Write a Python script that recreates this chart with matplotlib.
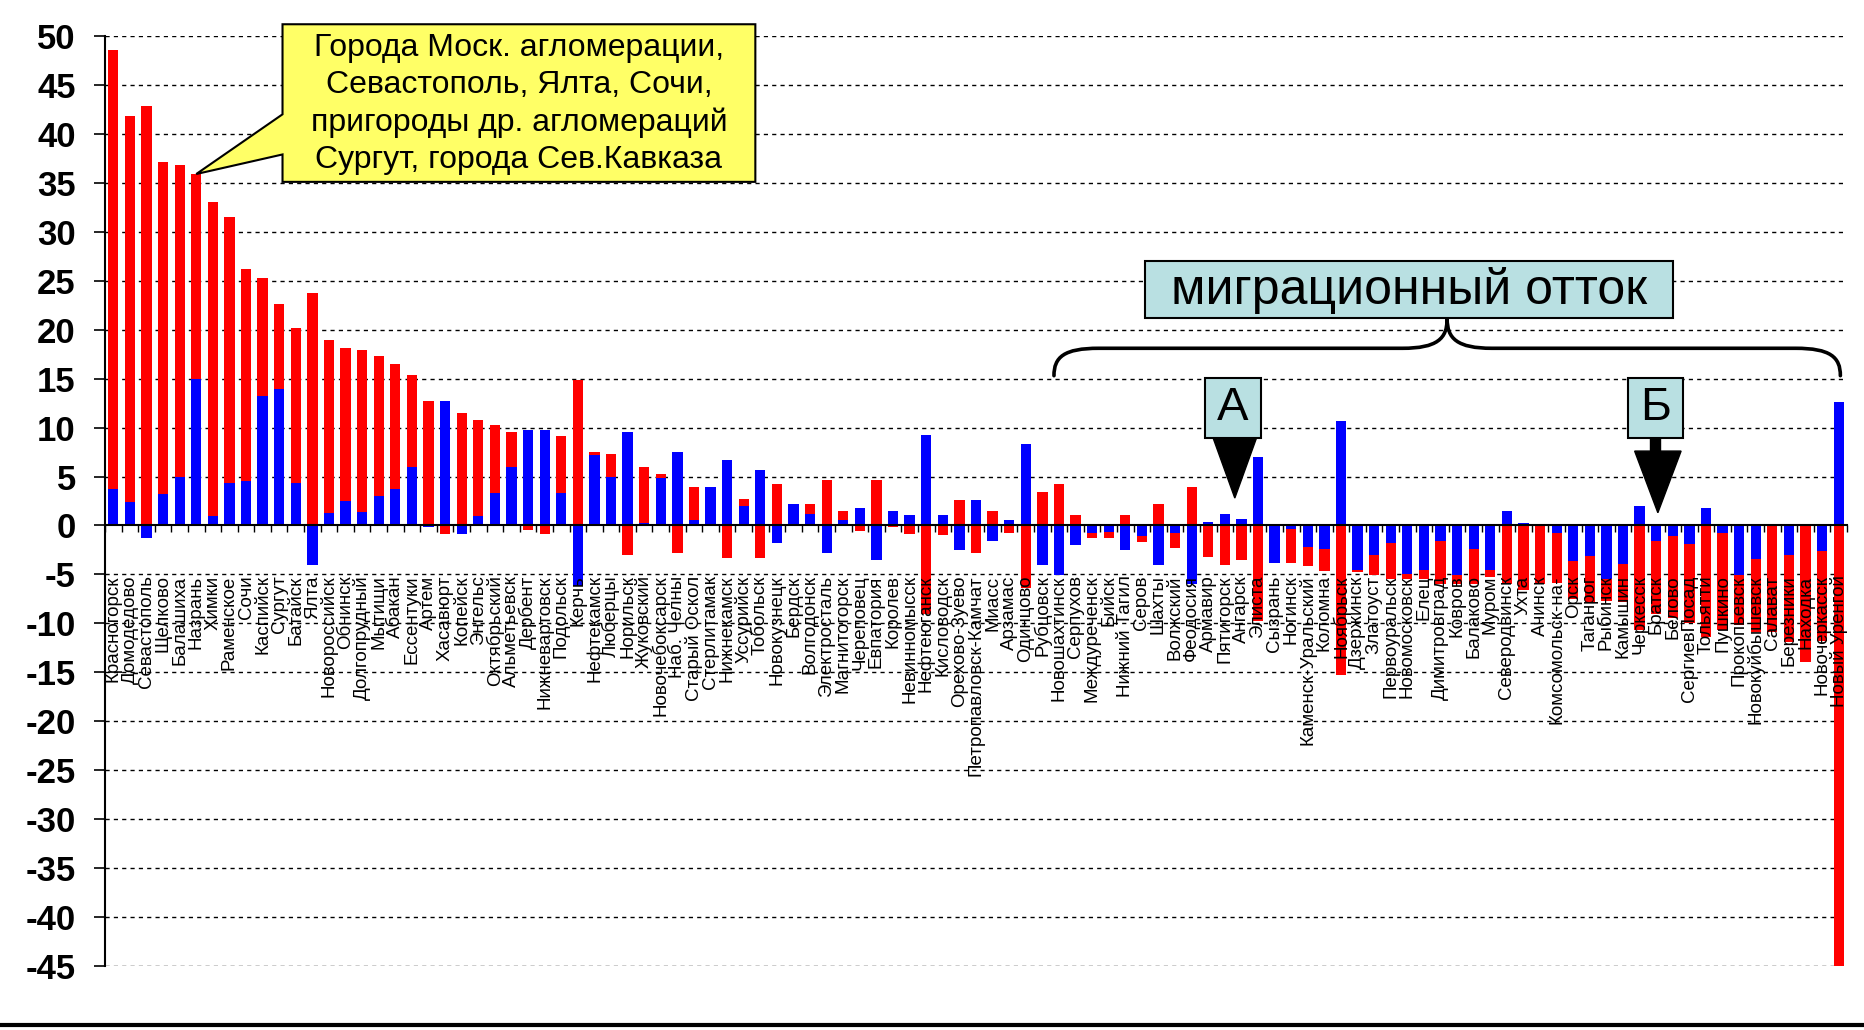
import numpy as np
import matplotlib
matplotlib.use("Agg")
import matplotlib.pyplot as plt
from matplotlib.patches import Polygon, Rectangle, PathPatch
from matplotlib.path import Path
from matplotlib.lines import Line2D

plt.rcParams['font.family'] = ['Liberation Sans', 'DejaVu Sans']

cities = [
    "Красногорск", "Домодедово", "Севастополь", "Щелково", "Балашиха", "Назрань", "Химки",
    "Раменское", "Сочи", "Каспийск", "Сургут", "Батайск", "Ялта", "Новороссийск", "Обнинск",
    "Долгопрудный", "Мытищи", "Абакан", "Ессентуки", "Артем", "Хасавюрт", "Копейск", "Энгельс",
    "Октябрьский", "Альметьевск", "Дербент", "Нижневартовск", "Подольск", "Керчь", "Нефтекамск",
    "Люберцы", "Норильск", "Жуковский", "Новочебоксарск", "Наб. Челны", "Старый Оскол",
    "Стерлитамак", "Нижнекамск", "Уссурийск", "Тобольск", "Новокузнецк", "Бердск", "Волгодонск",
    "Электросталь", "Магнитогорск", "Череповец", "Евпатория", "Королев", "Невинномысск",
    "Нефтеюганск", "Кисловодск", "Орехово-Зуево", "Петропавловск-Камчат", "Миасс", "Арзамас",
    "Одинцово", "Рубцовск", "Новошахтинск", "Серпухов", "Междуреченск", "Бийск", "Нижний Тагил",
    "Серов", "Шахты", "Волжский", "Феодосия", "Армавир", "Пятигорск", "Ангарск", "Элиста",
    "Сызрань", "Ногинск", "Каменск-Уральский", "Коломна", "Ноябрьск", "Дзержинск", "Златоуст",
    "Первоуральск", "Новомосковск", "Елец", "Димитровград", "Ковров", "Балаково", "Муром",
    "Северодвинск", "Ухта", "Ачинск", "Комсомольск-на-", "Орск", "Таганрог", "Рыбинск",
    "Камышин", "Черкесск", "Братск", "Белово", "СергиевПосад", "Тольятти", "Пушкино",
    "Прокопьевск", "Новокуйбышевск", "Салават", "Березники", "Находка", "Новочеркасск",
    "Новый Уренгой",
]

red_values = [
    48.6, 41.8, 42.9, 37.1, 36.8, 35.9, 33.0, 31.5, 26.2, 25.3, 22.6, 20.2, 23.7, 18.9, 18.1,
    17.9, 17.3, 16.5, 15.4, 12.7, -0.9, 11.5, 10.8, 10.3, 9.5, -0.5, -0.9, 9.1, 14.9, 7.5,
    7.3, -3.0, 6.0, 5.3, -2.8, 3.9, 0.5, -3.3, 2.7, -3.3, 4.2, 1.0, 2.2, 4.6, 1.5,
    -0.6, 4.6, -0.2, -0.9, -9.0, -1.0, 2.6, -2.8, 1.5, -0.8, -6.4, 3.4, 4.2, 1.1, -1.3,
    -1.3, 1.1, -1.7, 2.2, -2.3, 3.9, -3.2, -4.0, -3.5, -9.8, -2.0, -3.8, -4.1, -4.6, -15.3,
    -4.8, -5.1, -5.5, -5.5, -5.5, -6.0, -6.0, -6.0, -5.3, -6.0, -6.6, -6.0, -5.9, -7.5,
    -7.8, -7.7, -7.8, -10.7, -9.0, -9.5, -10.0, -11.4, -10.7, -10.2, -10.9, -10.9, -11.9,
    -13.9, -11.8, -45.2,
]

blue_values = [
    3.7, 2.4, -1.3, 3.2, 5.0, 15.0, 1.0, 4.3, 4.5, 13.2, 13.9, 4.3, -4.0, 1.3, 2.5,
    1.4, 3.0, 3.7, 6.0, -0.2, 12.7, -0.9, 1.0, 3.3, 6.0, 9.8, 9.8, 3.3, -6.2, 7.2,
    5.0, 9.5, 0.3, 4.9, 7.5, 0.6, 3.9, 6.7, 2.0, 5.7, -1.8, 2.2, 1.2, -2.8, 0.6,
    1.8, -3.5, 1.5, 1.1, 9.2, 1.1, -2.5, 2.6, -1.6, 0.6, 8.3, -4.0, -5.1, -2.0, -0.8,
    -0.7, -2.5, -1.1, -4.0, -0.8, -6.0, 0.4, 1.2, 0.7, 7.0, -3.8, -0.4, -2.2, -2.4, 10.7,
    -4.5, -3.0, -1.8, -5.0, -4.5, -1.6, -5.1, -2.4, -4.5, 1.5, 0.3, 0.1, -0.8, -3.6,
    -3.1, -5.5, -3.9, 2.0, -1.6, -1.1, -1.9, 1.8, -0.8, -5.1, -3.4, 0.1, -3.0,
    0.1, -2.6, 12.6,
]

y_ticks = list(range(-45, 51, 5))

callout_lines = ["Города Моск. агломерации,", "Севастополь, Ялта, Сочи,",
                 "пригороды др. агломераций", "Сургут, города Сев.Кавказа"]
outflow_label = "миграционный отток"
marker_a = "А"
marker_b = "Б"

W, H = 1865, 1030
fig = plt.figure(figsize=(W / 100, H / 100), dpi=100)
ax = fig.add_axes([105 / W, (H - 966) / H, (1847 - 105) / W, (966 - 36) / H])

n = len(cities)
x = np.arange(n)

# grid (behind bars)
for yv in y_ticks:
    if yv != 0:
        ax.axhline(yv, color='black', lw=1.0, ls=(0, (3, 3)), zorder=0.5)

ax.bar(x, red_values, width=0.62, color='#FF0000', zorder=1)
ax.bar(x, blue_values, width=0.62, color='#0000FF', zorder=1.1)

ax.set_xlim(-0.5, n - 0.5)
ax.set_ylim(-45, 50)

ax.spines['top'].set_visible(False)
ax.spines['right'].set_visible(False)
ax.spines['left'].set_linewidth(1.5)
ax.spines['bottom'].set_position(('data', 0))
ax.spines['bottom'].set_linewidth(1.5)

ax.set_yticks(y_ticks)
ax.set_yticklabels([str(v) for v in y_ticks], fontsize=25, fontweight='bold')
ax.tick_params(axis='y', length=8, width=1.2, pad=13)

ax.set_xticks(x)
ax.set_xticklabels(cities, rotation=90, fontsize=13.5)
ax.tick_params(axis='x', which='major', length=0, pad=36)
ax.set_xticks(np.arange(-0.5, n, 1.0), minor=True)
ax.tick_params(axis='x', which='minor', length=5, width=1, direction='out')

# yellow callout pointing at Назрань
tip_i = cities.index("Назрань")
bx0, bx1, by0, by1 = 10.2, 38.7, 35.1, 51.2
callout = Polygon([(bx0, by1), (bx1, by1), (bx1, by0), (bx0, by0), (bx0, 37.9),
                   (tip_i, red_values[tip_i]), (bx0, 42.0)],
                  closed=True, facecolor='#FFFF66', edgecolor='black', lw=1.5,
                  clip_on=False, zorder=5)
ax.add_patch(callout)
ax.text((bx0 + bx1) / 2, (by0 + by1) / 2 - 0.1, "\n".join(callout_lines), ha='center',
        va='center', fontsize=23, linespacing=1.3, zorder=6, clip_on=False)

# migration outflow box
light_blue = '#B9E0E2'
ax.add_patch(Rectangle((62.2, 21.2), 94.0 - 62.2, 27.0 - 21.2, facecolor=light_blue,
                       edgecolor='black', lw=1.5, zorder=5))
ax.text(78.1, 24.0, outflow_label, ha='center', va='center', fontsize=36, zorder=6)

# curly brace
L, R, P = 56.7, 104.1, 80.4
ya, ye, yp = 18.1, 15.3, 21.1
verts = [(L, ye), (L, 17.2), (L + 0.6, ya), (L + 2.7, ya),
         (P - 2.7, ya),
         (P - 0.6, ya), (P, ya + 1.0), (P, yp),
         (P, ya + 1.0), (P + 0.6, ya), (P + 2.7, ya),
         (R - 2.7, ya),
         (R - 0.6, ya), (R, 17.2), (R, ye)]
codes = [Path.MOVETO, Path.CURVE4, Path.CURVE4, Path.CURVE4,
         Path.LINETO,
         Path.CURVE4, Path.CURVE4, Path.CURVE4,
         Path.CURVE4, Path.CURVE4, Path.CURVE4,
         Path.LINETO,
         Path.CURVE4, Path.CURVE4, Path.CURVE4]
ax.add_patch(PathPatch(Path(verts, codes), facecolor='none', edgecolor='black', lw=2.6,
                       zorder=5, capstyle='round', joinstyle='round'))

# A marker
ax.add_patch(Rectangle((65.8, 8.9), 3.4, 6.2, facecolor=light_blue, edgecolor='black', lw=1.5, zorder=5))
ax.text(67.5, 12.0, marker_a, ha='center', va='center', fontsize=34, zorder=6)
ax.add_patch(Polygon([(66.3, 8.9), (68.9, 8.9), (67.6, 2.8)], closed=True,
                     facecolor='black', edgecolor='black', zorder=5))

# Б marker
ax.add_patch(Rectangle((91.3, 8.9), 3.3, 6.2, facecolor=light_blue, edgecolor='black', lw=1.5, zorder=5))
ax.text(92.95, 12.0, marker_b, ha='center', va='center', fontsize=34, zorder=6)
ax.add_patch(Rectangle((92.65, 7.6), 0.6, 1.3, facecolor='black', edgecolor='black', zorder=5))
ax.add_patch(Polygon([(91.7, 7.6), (94.5, 7.6), (93.1, 1.3)], closed=True,
                     facecolor='black', edgecolor='black', zorder=5))

# bottom rule of the slide
fig.add_artist(Line2D([0, 1], [1 - 1025 / H, 1 - 1025 / H], transform=fig.transFigure,
                      color='black', lw=3))

fig.savefig("out.png", dpi=100, facecolor='white')
